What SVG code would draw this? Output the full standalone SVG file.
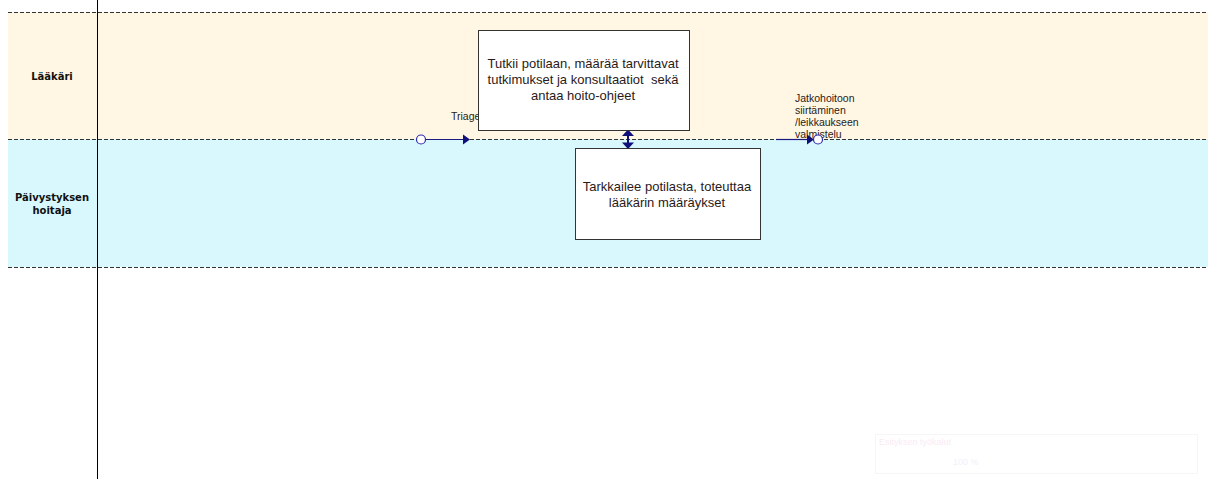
<svg xmlns="http://www.w3.org/2000/svg" width="1208" height="479" viewBox="0 0 1208 479">
<style>
.lane-sep{stroke:#333;stroke-width:1;stroke-dasharray:4,2;fill:none}
.lbl{font-family:"DejaVu Sans","Liberation Sans",sans-serif;font-size:10px;font-weight:bold;fill:#111;text-anchor:middle}
.box{fill:#fff;stroke:#333;stroke-width:1}
.bt{font-family:"Liberation Sans",Arial,sans-serif;font-size:13px;fill:#2a1a1a;text-anchor:middle;white-space:pre}
.st{font-family:"Liberation Sans",Arial,sans-serif;font-size:10.5px;fill:#2a1a1a}
.conn{stroke:#1a1a80;stroke-width:1.2;fill:none}
.ev{fill:#fff;stroke:#2a2ab0;stroke-width:1.2}
.head{fill:#10107a}
</style>
<rect width="1208" height="479" fill="#fff"/>
<g id="lanes">
<rect x="8" y="12" width="1200" height="127" fill="#FFF7E3"/>
<rect x="8" y="139" width="1200" height="128" fill="#D9F8FD"/>
<line class="lane-sep" x1="8" y1="12.5" x2="1208" y2="12.5"/>
<line class="lane-sep" x1="8" y1="139.5" x2="1208" y2="139.5"/>
<line class="lane-sep" x1="8" y1="267.5" x2="1208" y2="267.5" stroke="#666"/>
<line x1="97.5" y1="0" x2="97.5" y2="479" stroke="#000" stroke-width="1"/>
<text class="lbl" x="52" y="80">Lääkäri</text>
<text class="lbl" x="52" y="201">Päivystyksen</text>
<text class="lbl" x="52" y="214">hoitaja</text>
</g>
<g id="connectors">
<line class="conn" x1="425" y1="139.5" x2="464" y2="139.5"/>
<path class="head" d="M463,134.5 L470,139.5 L463,144.5 z"/>
<line class="conn" x1="776" y1="139.5" x2="808" y2="139.5"/>
<path class="head" d="M807,134.5 L814,139.5 L807,144.5 z"/>
<line x1="628" y1="134" x2="628" y2="145" stroke="#10107a" stroke-width="2"/>
<path class="head" d="M622,136 L628,129.5 L634,136 z"/>
<path class="head" d="M622,142.5 L628,149 L634,142.5 z"/>
<text class="st" x="451" y="120">Triage</text>
<text class="st" x="795" y="102">Jatkohoitoon</text>
<text class="st" x="795" y="114">siirtäminen</text>
<text class="st" x="795" y="126">/leikkaukseen</text>
<text class="st" x="795" y="138">valmistelu</text>
</g>
<g id="start">
<circle class="ev" cx="421" cy="139.5" r="4.5"/>
</g>
<g id="end">
<circle class="ev" cx="818" cy="139.5" r="4.5"/>
</g>
<g id="task1">
<rect class="box" x="478.5" y="30.5" width="211" height="100"/>
<text class="bt" x="583" y="68">Tutkii potilaan, määrää tarvittavat</text>
<text class="bt" x="583" y="84" xml:space="preserve">tutkimukset ja konsultaatiot  sekä</text>
<text class="bt" x="583" y="100">antaa hoito-ohjeet</text>
</g>
<g id="task2">
<rect class="box" x="575.5" y="148.5" width="185" height="91"/>
<text class="bt" x="667" y="191">Tarkkailee potilasta, toteuttaa</text>
<text class="bt" x="667" y="207">lääkärin määräykset</text>
</g>
<g id="toolbar" opacity="0.35">
<rect x="875.5" y="434.5" width="322" height="39" fill="#fff" stroke="#e6e6e6"/>
<text x="879" y="445" font-family="Liberation Sans, Arial, sans-serif" font-size="9px" fill="#f0c8e0">Esityksen työkalut</text>
<text x="953" y="465" font-family="Liberation Sans, Arial, sans-serif" font-size="9px" fill="#e0d0f0">100 %</text>
</g>
</svg>
